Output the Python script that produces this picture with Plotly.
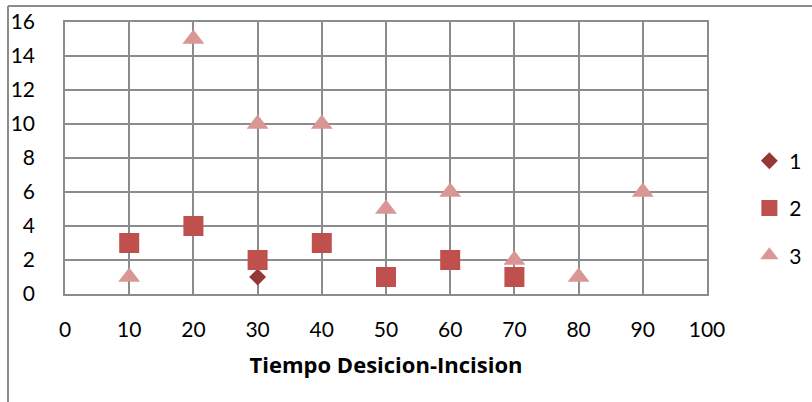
import plotly.graph_objects as go

s1_x = [30]
s1_y = [1]
s2_x = [10, 20, 30, 40, 50, 60, 70]
s2_y = [3, 4, 2, 3, 1, 2, 1]
s3_x = [10, 20, 30, 40, 50, 60, 70, 80, 90]
s3_y = [1, 15, 10, 10, 5, 6, 2, 1, 6]
series_names = ["1", "2", "3"]
x_title = "Tiempo Desicion-Incision"

fig = go.Figure()
fig.add_trace(go.Scatter(x=s1_x, y=s1_y, mode="markers", name=series_names[0],
                         legendgroup="a",
                         marker=dict(symbol="diamond", size=13, color="#953735")))
fig.add_trace(go.Scatter(x=s2_x, y=s2_y, mode="markers", name=series_names[1],
                         legendgroup="b",
                         marker=dict(symbol="square", size=20, color="#C0504D")))
fig.add_trace(go.Scatter(x=s3_x, y=s3_y, mode="markers", name=series_names[2],
                         legendgroup="c",
                         marker=dict(symbol="triangle-up", size=19, color="#D99694")))

grid = "#8c8c8c"
fig.update_layout(
    width=812, height=402,
    margin=dict(l=65, r=105, t=22, b=108, autoexpand=False),
    paper_bgcolor="white", plot_bgcolor="white",
    font=dict(family="Lato, Open Sans, sans-serif", size=21, color="black"),
    showlegend=True,
    legend=dict(x=1.066, y=0.316, xanchor="left", yanchor="middle",
                traceorder="grouped", tracegroupgap=17,
                font=dict(size=21), itemwidth=30, bgcolor="rgba(0,0,0,0)"),
    xaxis=dict(range=[0, 100], dtick=10, tick0=0, showgrid=True, gridcolor=grid,
               gridwidth=1.5, zeroline=False, showline=True, linecolor=grid,
               linewidth=1.5, ticks="", ticklabelstandoff=16,
               title=dict(text="<b>" + x_title + "</b>", standoff=18,
                          font=dict(size=22, family="Open Sans, Lato, sans-serif"))),
    yaxis=dict(range=[0, 16], dtick=2, tick0=0, showgrid=True, gridcolor=grid,
               gridwidth=1.5, zeroline=False, showline=True, linecolor=grid,
               linewidth=1.5, ticks="", ticklabelstandoff=24),
    shapes=[
        dict(type="line", xref="paper", yref="paper", x0=-0.0888, x1=1.2,
             y0=1.0588, y1=1.0588, line=dict(color="#8c8c8c", width=2)),
        dict(type="line", xref="paper", yref="paper", x0=-0.0888, x1=-0.0888,
             y0=1.0588, y1=-0.45, line=dict(color="#8c8c8c", width=2)),
    ],
)
fig.update_xaxes(mirror=True)
fig.update_yaxes(mirror=True)
fig.write_html("out.html")
